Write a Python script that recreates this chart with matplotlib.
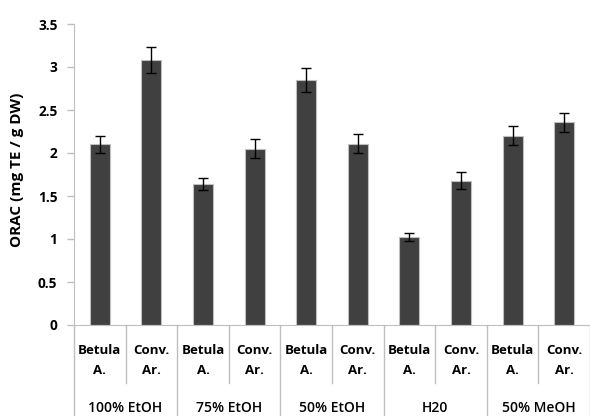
import matplotlib
matplotlib.use("Agg")
import matplotlib.pyplot as plt
import matplotlib.transforms as mtransforms

groups = ["100% EtOH", "75% EtOH", "50% EtOH", "H20", "50% MeOH"]
subcats = ["Betula\nA.", "Conv.\nAr."]
values = [2.10, 3.08, 1.64, 2.05, 2.85, 2.11, 1.02, 1.68, 2.20, 2.36]
errors = [0.10, 0.15, 0.07, 0.11, 0.14, 0.11, 0.045, 0.10, 0.11, 0.11]
yticks = [0, 0.5, 1, 1.5, 2, 2.5, 3, 3.5]
ytick_labels = ["0", "0.5", "1", "1.5", "2", "2.5", "3", "3.5"]
ylabel = "ORAC (mg TE / g DW)"

plt.rcParams['font.family'] = ['Open Sans', 'DejaVu Sans']
plt.rcParams['font.weight'] = 'bold'
FS = 9.5

W, H = 590, 416
fig = plt.figure(figsize=(W / 100, H / 100), dpi=100)
x0, x1 = 74, 590
y0, y1 = 325, 24
ax = fig.add_axes([x0 / W, (H - y0) / H, (x1 - x0) / W, (y0 - y1) / H])

n = len(values)
xs = list(range(n))
ax.bar(xs, values, width=0.39, color="#404040", edgecolor="#bfbfbf", linewidth=0.8,
       yerr=errors, error_kw=dict(ecolor="black", elinewidth=1.0, capsize=3.5, capthick=1.0),
       zorder=2)

ax.set_xlim(-0.5, n - 0.5)
ax.set_ylim(0, 3.5)
ax.set_yticks(yticks)
ax.set_yticklabels(ytick_labels, fontsize=FS + 0.3, fontweight='bold')
ax.set_xticks([])
for s in ["top", "right"]:
    ax.spines[s].set_visible(False)
ax.spines["left"].set_color("#bfbfbf")
ax.spines["bottom"].set_color("#bfbfbf")
ax.tick_params(axis='y', length=5, color="#bfbfbf", width=1, pad=7)

trans = mtransforms.blended_transform_factory(ax.transData, ax.transAxes)
ph = y0 - y1

def fy(p):
    return (y0 - p) / ph

# dividers
for i in range(n + 1):
    xd = i - 0.5
    if i % 2 == 0:
        ax.plot([xd, xd], [0, fy(H + 2)], transform=trans, color="#bfbfbf", lw=1, clip_on=False)
    else:
        ax.plot([xd, xd], [0, fy(383)], transform=trans, color="#bfbfbf", lw=1, clip_on=False)

for i in range(n):
    top, bot = subcats[i % 2].split("\n")
    ax.text(i, fy(351), top, transform=trans, ha="center", va="center", fontsize=FS, fontweight='bold')
    ax.text(i, fy(370), bot, transform=trans, ha="center", va="center", fontsize=FS, fontweight='bold')

for g, name in enumerate(groups):
    ax.text(2 * g + 0.5, fy(408), name, transform=trans, ha="center", va="center", fontsize=10, fontweight='semibold')

fig.text(17 / W, 1 - 170 / H, ylabel, rotation=90, ha="center", va="center", fontsize=11, fontweight='bold')

fig.savefig("out.png", dpi=100)
